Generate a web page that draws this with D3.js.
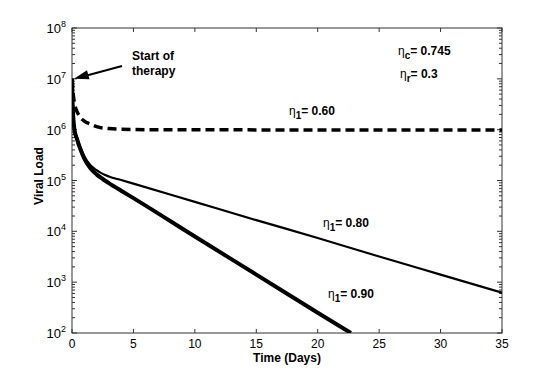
<!DOCTYPE html>
<html lang="en">
<head>
    <meta charset="UTF-8">
    <title>Viral Load</title>
    <script src="https://cdn.jsdelivr.net/npm/d3@7"></script>
    <style>
        body { margin: 0; background: #fff; }
        text { font-family: "Liberation Sans", Arial, sans-serif; }
    </style>
</head>
<body>
<script>
    // time (days) and viral load for each efficacy
    var time60 = [0, 0.1, 0.2, 0.35, 0.6, 1, 1.5, 2, 3, 4, 6, 35];
    var load60 = [1e7, 5.0e6, 3.3e6, 2.45e6, 1.86e6, 1.48e6, 1.29e6, 1.15e6, 1.05e6, 1.02e6, 1.0e6, 9.8e5];

    var time80 = [0, 0.05, 0.1, 0.2, 0.4, 0.7, 1, 1.5, 2, 2.5, 3, 4, 5, 10, 15, 20, 25, 30, 35];
    var load80 = [1e7, 3.2e6, 1.8e6, 1.05e6, 7.1e5, 4.5e5, 3.0e5, 2.0e5, 1.6e5, 1.35e5, 1.2e5, 1.02e5, 8.7e4, 3.8e4, 1.66e4, 7.4e3, 3.2e3, 1.41e3, 620];

    var time90 = [0, 0.05, 0.1, 0.2, 0.4, 0.7, 1, 1.5, 2, 2.5, 3, 4, 5, 10, 15, 20, 22.7];
    var load90 = [1e7, 3.2e6, 1.8e6, 1.0e6, 6.6e5, 4.0e5, 2.7e5, 1.74e5, 1.32e5, 1.07e5, 8.9e4, 6.3e4, 4.5e4, 7.9e3, 1.41e3, 250, 100];

    var xTicks = [0, 5, 10, 15, 20, 25, 30, 35];
    var yExponents = [2, 3, 4, 5, 6, 7, 8];

    var width = 554, height = 375;
    // plot box (window.top is reserved, so use other names)
    var boxL = 72, boxR = 502, boxT = 28, boxB = 333;

    var svg = d3.select("body").append("svg")
            .attr("width", width)
            .attr("height", height);

    var x = d3.scaleLinear().domain([0, 35]).range([boxL, boxR]);
    var y = d3.scaleLog().domain([1e2, 1e8]).range([boxB, boxT]);

    // minor ticks on log axis
    var minor = [];
    yExponents.slice(0, -1).forEach(function (e) {
        for (var k = 2; k <= 9; k++) minor.push(k * Math.pow(10, e));
    });
    var major = yExponents.map(function (e) { return Math.pow(10, e); });

    var axisColor = "#333";
    var g = svg.append("g");

    // box
    g.append("rect")
            .attr("x", boxL).attr("y", boxT)
            .attr("width", boxR - boxL).attr("height", boxB - boxT)
            .attr("fill", "none").attr("stroke", axisColor).attr("stroke-width", 1);

    // x ticks, bottom and top, inward
    g.selectAll(null).data(xTicks).enter().append("line")
            .attr("x1", function (d) { return x(d); }).attr("x2", function (d) { return x(d); })
            .attr("y1", boxB).attr("y2", boxB - 4)
            .attr("stroke", axisColor);
    g.selectAll(null).data(xTicks).enter().append("line")
            .attr("x1", function (d) { return x(d); }).attr("x2", function (d) { return x(d); })
            .attr("y1", boxT).attr("y2", boxT + 4)
            .attr("stroke", axisColor);
    g.selectAll(null).data(xTicks).enter().append("text")
            .attr("x", function (d) { return x(d); })
            .attr("y", 348)
            .attr("text-anchor", "middle")
            .attr("font-size", 12)
            .text(function (d) { return d; });

    // y ticks, left and right, inward
    [[major, 5], [minor, 3]].forEach(function (p) {
        g.selectAll(null).data(p[0]).enter().append("line")
                .attr("x1", boxL).attr("x2", boxL + p[1])
                .attr("y1", function (d) { return y(d); }).attr("y2", function (d) { return y(d); })
                .attr("stroke", axisColor);
        g.selectAll(null).data(p[0]).enter().append("line")
                .attr("x1", boxR).attr("x2", boxR - p[1])
                .attr("y1", function (d) { return y(d); }).attr("y2", function (d) { return y(d); })
                .attr("stroke", axisColor);
    });

    var yl = g.selectAll(null).data(yExponents).enter().append("text")
            .attr("x", 66)
            .attr("y", function (d) { return y(Math.pow(10, d)) + 5; })
            .attr("text-anchor", "end")
            .attr("font-size", 13);
    yl.append("tspan").text("10");
    yl.append("tspan").attr("dy", -6).attr("font-size", 9).text(function (d) { return d; });

    // axis titles
    svg.append("text")
            .attr("x", 287).attr("y", 362)
            .attr("text-anchor", "middle")
            .attr("font-size", 12).attr("font-weight", "bold")
            .text("Time (Days)");
    svg.append("text")
            .attr("transform", "translate(43,176) rotate(-90)")
            .attr("text-anchor", "middle")
            .attr("font-size", 12).attr("font-weight", "bold")
            .text("Viral Load");

    // curves
    var line = d3.line()
            .x(function (d) { return x(d[0]); })
            .y(function (d) { return y(d[1]); })
            .curve(d3.curveMonotoneX);

    svg.append("clipPath").attr("id", "clip")
            .append("rect").attr("x", boxL).attr("y", boxT)
            .attr("width", boxR - boxL).attr("height", boxB - boxT);

    var plot = svg.append("g").attr("clip-path", "url(#clip)");

    plot.append("path")
            .datum(d3.zip(time60, load60))
            .attr("d", line)
            .attr("fill", "none").attr("stroke", "#000")
            .attr("stroke-width", 3.5).attr("stroke-dasharray", "9,5");
    plot.append("path")
            .datum(d3.zip(time80, load80))
            .attr("d", line)
            .attr("fill", "none").attr("stroke", "#000")
            .attr("stroke-width", 2.2);
    plot.append("path")
            .datum(d3.zip(time90, load90))
            .attr("d", line)
            .attr("fill", "none").attr("stroke", "#000")
            .attr("stroke-width", 4);

    // eta labels
    function etaLabel(px, py, sub, rest) {
        var t = svg.append("text").attr("x", px).attr("y", py).attr("font-size", 12);
        t.append("tspan").text("\u03b7");
        t.append("tspan").attr("dy", 4).attr("font-size", 10)
                .attr("font-weight", "bold").text(sub);
        t.append("tspan").attr("dy", -4).attr("font-weight", "bold").text(rest);
    }
    etaLabel(398, 55, "c", "= 0.745");
    etaLabel(400, 78, "r", "= 0.3");
    etaLabel(289, 115, "1", "= 0.60");
    etaLabel(323, 227, "1", "= 0.80");
    etaLabel(328, 298, "1", "= 0.90");

    // start of therapy annotation
    svg.append("text").attr("x", 132).attr("y", 60)
            .attr("font-size", 12).attr("font-weight", "bold").text("Start of");
    svg.append("text").attr("x", 132).attr("y", 75)
            .attr("font-size", 12).attr("font-weight", "bold").text("therapy");

    var tipX = x(0) + 2, tipY = y(1e7);
    svg.append("line")
            .attr("x1", 122).attr("y1", 66)
            .attr("x2", tipX + 10).attr("y2", tipY - 2.6)
            .attr("stroke", "#000").attr("stroke-width", 2);
    svg.append("path")
            .attr("d", "M" + tipX + "," + tipY +
                    "L" + (tipX + 13) + "," + (tipY - 8.5) +
                    "L" + (tipX + 15.5) + "," + (tipY + 0.5) + "Z")
            .attr("fill", "#000");
</script>
</body>
</html>
